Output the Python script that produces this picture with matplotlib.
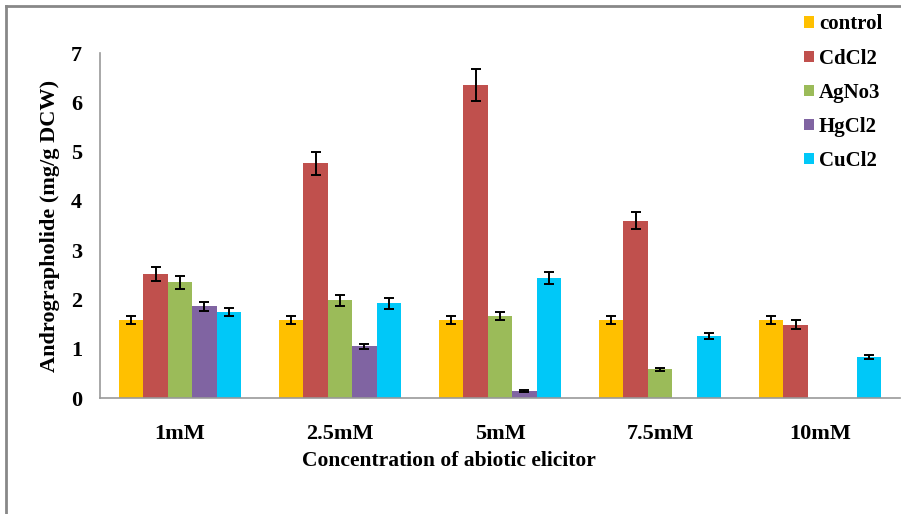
import numpy as np
import matplotlib
matplotlib.use('Agg')
import matplotlib.pyplot as plt
from matplotlib.lines import Line2D

# data
categories = ['1mM', '2.5mM', '5mM', '7.5mM', '10mM']
series = ['control', 'CdCl2', 'AgNo3', 'HgCl2', 'CuCl2']
control = [1.58, 1.58, 1.58, 1.58, 1.58]
cdcl2 = [2.52, 4.76, 6.35, 3.60, 1.49]
agno3 = [2.35, 1.98, 1.67, 0.58, 0.0]
hgcl2 = [1.86, 1.05, 0.14, 0.0, 0.0]
cucl2 = [1.74, 1.92, 2.43, 1.26, 0.83]
control_err = [0.08, 0.08, 0.08, 0.08, 0.08]
cdcl2_err = [0.14, 0.23, 0.32, 0.17, 0.09]
agno3_err = [0.13, 0.11, 0.08, 0.03, 0.0]
hgcl2_err = [0.09, 0.05, 0.02, 0.0, 0.0]
cucl2_err = [0.08, 0.11, 0.12, 0.06, 0.04]

colors = ['#FFC000', '#C0504D', '#9BBB59', '#8064A2', '#00C8F8']
values = [control, cdcl2, agno3, hgcl2, cucl2]
errors = [control_err, cdcl2_err, agno3_err, hgcl2_err, cucl2_err]

plt.rcParams['font.family'] = ['Liberation Serif', 'DejaVu Serif']
plt.rcParams['font.weight'] = 'bold'

fig = plt.figure(figsize=(9.01, 5.14), dpi=100)
ax = fig.add_axes([100/901, 1-398/514, 800/901, (398-53)/514])

x = np.arange(len(categories))
w = 0.153
for i in range(len(series)):
    pos = x + (i - 2) * w
    ax.bar(pos, values[i], w, color=colors[i], label=series[i])
    v = np.array(values[i])
    e = np.array(errors[i])
    m = v > 0
    ax.errorbar(pos[m], v[m], yerr=e[m], fmt='none', ecolor='black',
                elinewidth=1.4, capsize=3.5, capthick=1.4)

ax.set_xlim(-0.5, 4.5)
ax.set_ylim(0, 7)
ax.set_xticks(x)
ax.set_xticklabels(categories, fontsize=16, fontweight='bold')
ax.set_yticks(range(8))
ax.set_yticklabels([str(k) for k in range(8)], fontsize=16, fontweight='bold')
ax.tick_params(axis='both', length=0)
ax.tick_params(axis='x', pad=19)
ax.tick_params(axis='y', pad=13)
for s in ['top', 'right']:
    ax.spines[s].set_visible(False)
for s in ['left', 'bottom']:
    ax.spines[s].set_color('#999999')
    ax.spines[s].set_linewidth(1.2)

ax.set_xlabel('Concentration of abiotic elicitor', fontsize=15.5, fontweight='bold', labelpad=8)
ax.xaxis.set_label_coords(0.436, -0.155)
ax.set_ylabel('Andrographolide (mg/g DCW)', fontsize=16, fontweight='bold', labelpad=8)

leg = fig.legend(loc='upper left', bbox_to_anchor=(794/901, 1-4/514), frameon=False,
                 fontsize=15, handlelength=0.45, handleheight=0.45, handletextpad=0.25,
                 labelspacing=0.68, borderpad=0.0)
for t in leg.get_texts():
    t.set_fontweight('bold')

# outer frame (left and top edges)
fig.add_artist(Line2D([6/901, 6/901], [0, 1-6/514], transform=fig.transFigure,
                      color='#888888', lw=2))
fig.add_artist(Line2D([6/901, 1], [1-6/514, 1-6/514], transform=fig.transFigure,
                      color='#888888', lw=2))

fig.savefig('out.png', dpi=100)
